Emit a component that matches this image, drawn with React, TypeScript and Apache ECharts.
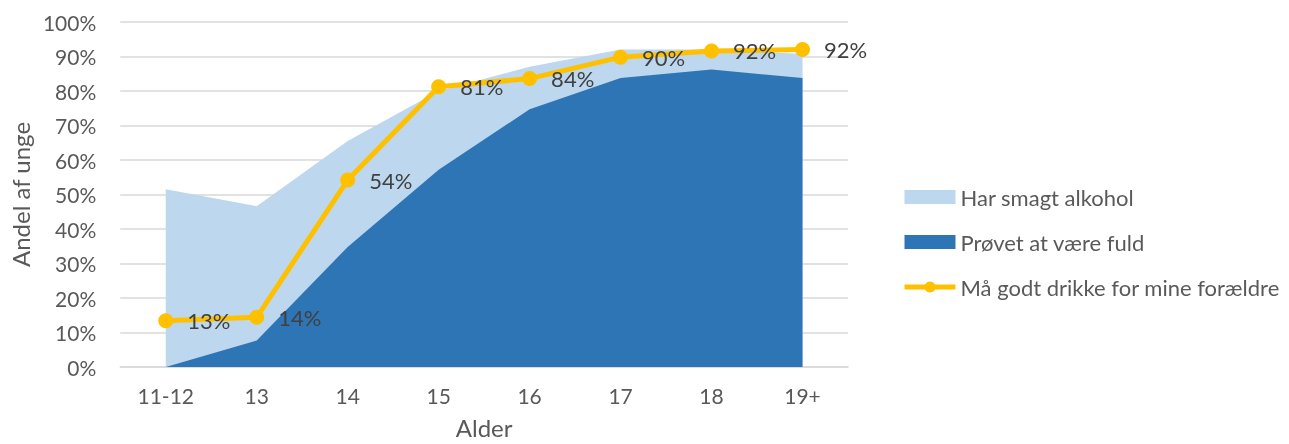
import React, { useEffect, useRef } from "react";
import * as echarts from "echarts";

const categories = ["11-12", "13", "14", "15", "16", "17", "18", "19+"];
const smagtAlkohol = [51.5, 46.6, 65.5, 80, 87, 92, 92, 90.7];
const provetFuld = [0, 7.7, 34.8, 57.2, 74.7, 83.8, 86.2, 83.8];
const maaDrikke = [13.4, 14.4, 54.2, 81.2, 83.6, 89.8, 91.6, 92];
const yTicks = [0, 10, 20, 30, 40, 50, 60, 70, 80, 90, 100];

const FONT = "Lato, 'Open Sans', sans-serif";

export default function App() {
  const ref = useRef<HTMLDivElement>(null);
  useEffect(() => {
    if (!ref.current) return;
    const chart = echarts.init(ref.current, undefined, { renderer: "svg" });
    chart.setOption({
      animation: false,
      textStyle: { fontFamily: FONT },
      grid: { left: 120, right: 441, top: 22, bottom: 72, containLabel: false },
      legend: {
        orient: "vertical",
        left: 897,
        top: 181,
        itemGap: 23,
        itemWidth: 51,
        itemHeight: 14,
        textStyle: { fontSize: 22, color: "#595959", fontFamily: FONT, padding: [0, 0, 0, 0] },
        data: [
          { name: "Har smagt alkohol", icon: "rect" },
          { name: "Prøvet at være fuld", icon: "rect" },
          { name: "Må godt drikke for mine forældre", lineStyle: { width: 5 } },
        ],
      },
      xAxis: {
        type: "category",
        data: categories,
        boundaryGap: true,
        name: "Alder",
        nameLocation: "middle",
        nameGap: 48,
        nameTextStyle: { fontSize: 24, color: "#595959", fontFamily: FONT },
        axisLine: { show: true, lineStyle: { color: "#D9D9D9", width: 1.5 } },
        axisTick: { show: false },
        axisLabel: { fontSize: 21, color: "#595959", margin: 18, fontFamily: FONT },
      },
      yAxis: {
        type: "value",
        min: 0,
        max: 100,
        interval: 10,
        name: "Andel af unge",
        nameLocation: "middle",
        nameGap: 87,
        nameTextStyle: { fontSize: 24, color: "#595959", fontFamily: FONT },
        axisLine: { show: false },
        axisTick: { show: false },
        axisLabel: {
          fontSize: 21,
          color: "#595959",
          margin: 24,
          fontFamily: FONT,
          formatter: (v: number) => (yTicks.includes(v) ? v + "%" : ""),
        },
        splitLine: { lineStyle: { color: "#D9D9D9", width: 1.5 } },
      },
      series: [
        {
          name: "Har smagt alkohol",
          type: "line",
          data: smagtAlkohol,
          symbol: "none",
          lineStyle: { width: 0 },
          itemStyle: { color: "#BDD7EE" },
          areaStyle: { color: "#BDD7EE", opacity: 1 },
          z: 1,
        },
        {
          name: "Prøvet at være fuld",
          type: "line",
          data: provetFuld,
          symbol: "none",
          lineStyle: { width: 0 },
          itemStyle: { color: "#2E75B6" },
          areaStyle: { color: "#2E75B6", opacity: 1 },
          z: 2,
        },
        {
          name: "Må godt drikke for mine forældre",
          type: "line",
          data: maaDrikke,
          symbol: "circle",
          symbolSize: 15,
          lineStyle: { width: 5, color: "#FFC000" },
          itemStyle: { color: "#FFC000" },
          label: {
            show: true,
            position: "right",
            distance: 14,
            fontSize: 22,
            color: "#404040",
            fontFamily: FONT,
            formatter: (p: any) => Math.round(p.value) + "%",
          },
          z: 3,
        },
      ],
    });
    return () => chart.dispose();
  }, []);
  return (
    <div
      ref={ref}
      style={{ position: "fixed", left: 0, top: 0, width: 1289, height: 444 }}
    />
  );
}
